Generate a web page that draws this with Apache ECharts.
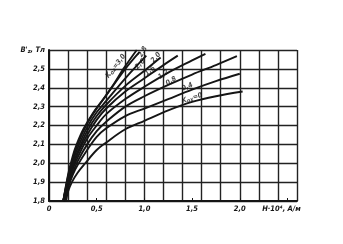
<!DOCTYPE html>
<html><head><meta charset="utf-8">
<script src="https://cdn.jsdelivr.net/npm/echarts@6/dist/echarts.min.js"></script>
<style>html,body{margin:0;padding:0;background:#fff}#c{width:343px;height:244px}</style>
</head><body><div id="c"></div>
<script>
// Curve data: [H·10^4 A/m, B'z T]
const kox0  = [[0.18,1.8],[0.2,1.85],[0.24,1.9],[0.3,1.95],[0.38,2.0],[0.5,2.07],[0.6,2.11],[0.8,2.18],[1.0,2.225],[1.25,2.28],[1.5,2.325],[1.75,2.355],[2.03,2.38]];
const kox04 = [[0.17,1.8],[0.2,1.87],[0.25,1.94],[0.3,1.99],[0.4,2.07],[0.5,2.14],[0.6,2.185],[0.8,2.25],[1.0,2.29],[1.25,2.34],[1.5,2.39],[1.75,2.435],[2.0,2.474]];
const kox08 = [[0.16,1.8],[0.2,1.88],[0.25,1.95],[0.3,2.01],[0.4,2.1],[0.5,2.17],[0.6,2.22],[0.8,2.3],[1.0,2.355],[1.25,2.415],[1.5,2.47],[1.75,2.52],[1.97,2.567]];
const kox12 = [[0.16,1.8],[0.2,1.89],[0.25,1.97],[0.3,2.03],[0.4,2.13],[0.5,2.2],[0.6,2.26],[0.8,2.34],[1.0,2.405],[1.25,2.48],[1.5,2.545],[1.64,2.58]];
const kox16 = [[0.15,1.8],[0.2,1.9],[0.25,1.98],[0.3,2.05],[0.4,2.15],[0.5,2.23],[0.6,2.29],[0.8,2.38],[1.0,2.45],[1.2,2.52],[1.35,2.57]];
const kox20 = [[0.15,1.8],[0.2,1.91],[0.25,1.99],[0.3,2.06],[0.4,2.17],[0.5,2.25],[0.6,2.31],[0.8,2.41],[1.0,2.49],[1.17,2.56]];
const kox24 = [[0.15,1.8],[0.2,1.92],[0.25,2.01],[0.3,2.08],[0.4,2.19],[0.5,2.27],[0.6,2.33],[0.8,2.45],[1.02,2.57]];
const kox28 = [[0.15,1.8],[0.2,1.93],[0.25,2.02],[0.3,2.1],[0.4,2.21],[0.5,2.29],[0.6,2.36],[0.8,2.5],[0.95,2.59]];
const kox30 = [[0.15,1.8],[0.2,1.94],[0.25,2.04],[0.29,2.1],[0.36,2.18],[0.46,2.265],[0.57,2.34],[0.68,2.42],[0.78,2.5],[0.92,2.6]];
const curves = [kox0,kox04,kox08,kox12,kox16,kox20,kox24,kox28,kox30];
// Curve labels
const labelTexts = ['K{s|ох}=0','0,4','0,8','1,2','1,6','2,0','2,6','2,8','K{s|ох}=3,0'];
const labelPos   = [[1.5,2.345],[1.45,2.405],[1.28,2.435],[1.2,2.47],[1.06,2.49],[1.12,2.56],[0.955,2.525],[0.985,2.59],[0.70,2.515]];
const labelRot   = [18,25,30,35,40,48,45,60,52];
// Axis ticks
const xTicks = [0,0.5,1.0,1.5,2.0];
const xName = 'H·10⁴, A/м';
const yName = "B'{s|z}, Тл";

const FONT = "'Liberation Sans Narrow','DejaVu Sans Condensed',sans-serif";
const ink = '#151515';
const chart = echarts.init(document.getElementById('c'), null, {renderer:'canvas'});
const fmt = v => String(Math.round(v*10)/10).replace('.', ',');
const series = curves.map(d => ({
  type:'line', data:d, showSymbol:false, smooth:0.35, xAxisIndex:0, yAxisIndex:0,
  lineStyle:{color:ink, width:1.9}, silent:true, z:3
}));
series.push({
  type:'scatter', symbolSize:0, xAxisIndex:0, yAxisIndex:0, z:5, silent:true,
  data: labelPos.map((p,i)=>({value:p, label:{show:true, rotate:labelRot[i], formatter:labelTexts[i]}})),
  label:{position:'inside', color:ink, fontSize:7, fontWeight:'bold', fontStyle:'italic', fontFamily:FONT,
    rich:{s:{fontSize:5.5, fontWeight:'bold', fontStyle:'italic', fontFamily:FONT, color:ink, verticalAlign:'bottom', padding:[3,0,0,0]}}}
});
chart.setOption({
  backgroundColor:'#fff',
  animation:false,
  grid:{left:49, right:46, top:50, bottom:43, show:false},
  xAxis:[
    {type:'value', min:0, max:2.6, interval:0.2, position:'bottom',
     axisLine:{show:true, onZero:false, lineStyle:{color:ink, width:2}},
     axisTick:{show:false}, axisLabel:{show:false},
     splitLine:{show:true, lineStyle:{color:'#222', width:1.4}}},
    {type:'value', min:0, max:2.6, interval:0.5, position:'bottom',
     axisLine:{show:false}, splitLine:{show:false},
     axisTick:{show:true, inside:true, length:3, lineStyle:{color:ink, width:1}},
     axisLabel:{show:true, showMaxLabel:false, margin:4, color:ink, fontSize:7.5, fontWeight:'bold', fontStyle:'italic', fontFamily:FONT,
       formatter: v => (Math.abs(v-2.5)<1e-6 ? '{n|' + xName + '}' : (v===0 ? '0' : fmt(v).replace(/^(\d)$/,'$1,0'))),
       rich:{n:{fontSize:7.5, fontWeight:'bold', fontStyle:'italic', fontFamily:FONT, color:ink, padding:[0,12,0,0]}}}}
  ],
  yAxis:{type:'value', min:1.8, max:2.6, interval:0.1,
     axisLine:{show:true, onZero:false, lineStyle:{color:ink, width:2}},
     axisTick:{show:false},
     splitLine:{show:true, lineStyle:{color:'#222', width:1.4}},
     axisLabel:{show:true, margin:4, color:ink, fontSize:7.5, fontWeight:'bold', fontStyle:'italic', fontFamily:FONT,
       showMaxLabel:true,
       formatter: v => (Math.abs(v-2.6)<1e-6 ? yName : fmt(v).replace(/^(\d)$/,'$1,0')),
       rich:{s:{fontSize:5.5, fontWeight:'bold', fontStyle:'italic', fontFamily:FONT, color:ink, padding:[4,0,0,0]}}}},
  series
});
</script></body></html>
